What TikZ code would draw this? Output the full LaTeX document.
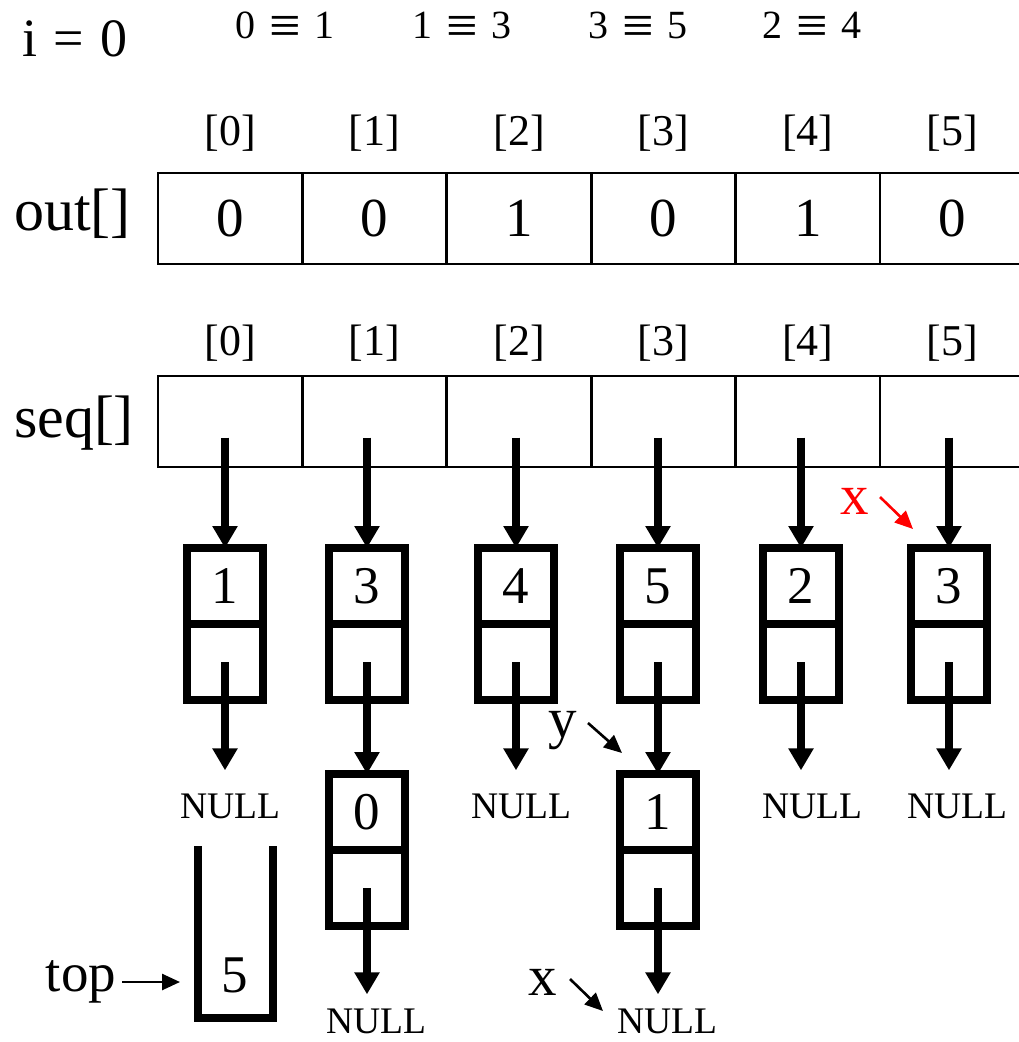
\documentclass[tikz,border=0pt]{standalone}
\usepackage{fontspec}
\setmainfont{Liberation Serif}
\usepackage{tikz}
\usetikzlibrary{positioning,arrows.meta,calc}

\tikzset{
  cell/.style={draw, line width=2.8pt, minimum width=144.4pt, minimum height=91pt,
    inner sep=0pt, outer sep=0pt, font=\fontsize{55}{60}\selectfont},
  idx/.style={inner sep=0pt, font=\fontsize{44}{50}\selectfont},
  arrname/.style={inner sep=0pt, font=\fontsize{60}{66}\selectfont},
  eqn/.style={inner sep=0pt, font=\fontsize{40}{46}\selectfont},
  listval/.style={draw, line width=8pt, minimum width=76pt, minimum height=76pt,
    inner sep=0pt, outer sep=0pt, font=\fontsize{53}{58}\selectfont},
  listptr/.style={listval},
  nulltxt/.style={inner sep=0pt, font=\fontsize{37.5}{42}\selectfont},
  lbl/.style={inner sep=0pt, font=\fontsize{57}{62}\selectfont},
  ptr/.style={line width=8pt, -{Triangle[width=24pt,length=22pt]}},
  thinptr/.style={line width=2.6pt, -{Triangle[width=16pt,length=18pt]}},
}

\begin{document}
\begin{tikzpicture}[x=1pt, y=-1pt]
    \useasboundingbox (0,0) rectangle (1019,1042);
    % ---- header ----
    \node[lbl, font=\fontsize{54}{60}\selectfont] (iv) at (75,39) {i\hspace{0.3em}=\hspace{0.3em}0};
    \foreach \x/\a/\b [count=\k] in {285/0/1, 462/1/3, 638/3/5, 812/2/4}
      \node[eqn] (eq\k) at (\x,28) {\a\hspace{0.35em}\raisebox{-0.15em}{\fontsize{56}{60}\selectfont ≡}\hspace{0.35em}\b};
    % ---- out[] ----
    \node[arrname] (outname) at (72.5,213.5) {out[]};
    \foreach \v [count=\k from 0] in {0,0,1,0,1,0} {
      \node[cell] (o\k) at ({230.2+144.4*\k},218.5) {\v};
      \node[idx] (oi\k) at ({230.2+144.4*\k},133) {[\k]};
    }
    % ---- seq[] ----
    \node[arrname] (seqname) at (74,423.5) {seq[]};
    \foreach \k in {0,...,5} {
      \node[cell] (s\k) at ({230.2+144.4*\k},421.5) {};
      \node[idx] (si\k) at ({230.2+144.4*\k},343) {[\k]};
    }
    % ---- first nodes ----
    \foreach \k/\x/\v in {0/225/1, 1/367/3, 2/516/4, 3/658/5, 4/801/2, 5/949/3} {
      \node[listval] (v\k) at (\x,586) {\v};
      \node[listptr, below=0pt of v\k] (p\k) {};
      \draw[ptr] ($(s\k.center -| v\k.north)+(0,16)$) -- (v\k.north);
    }
    \foreach \k/\x in {0/230, 2/521, 4/812, 5/957} {
      \node[nulltxt] (n\k) at (\x,806) {NULL};
      \draw[ptr, shorten >=23pt] (p\k.center) -- (p\k.center |- n\k.north);
    }
    % ---- second nodes ----
    \node[listval] (w1) at (367,812) {0};
    \node[listptr, below=0pt of w1] (q1) {};
    \node[listval] (w3) at (658,812) {1};
    \node[listptr, below=0pt of w3] (q3) {};
    \draw[ptr] (p1.center) -- (w1.north);
    \draw[ptr] (p3.center) -- (w3.north);
    \node[nulltxt] (m1) at (376,1021) {NULL};
    \node[nulltxt] (m3) at (667,1021) {NULL};
    \draw[ptr, shorten >=14pt] (q1.center) -- (q1.center |- m1.north);
    \draw[ptr, shorten >=14pt] (q3.center) -- (q3.center |- m3.north);
    % ---- stack ----
    \node[minimum width=75pt, minimum height=172pt, inner sep=0pt, outer sep=0pt] (stk) at (235.5,932) {};
    \draw[line width=8pt] (stk.north west) -- (stk.south west) -- (stk.south east) -- (stk.north east);
    \node[lbl, font=\fontsize{53}{58}\selectfont] (sv) at (235,975) {5};
    \node[lbl, font=\fontsize{55}{60}\selectfont] (toplbl) at (81,982) {top};
    \draw[thinptr, shorten <=6pt, shorten >=18pt] (toplbl.east) -- (toplbl.east -| stk.west);
    % ---- labels ----
    \node[lbl] (ylbl) at (563,731) {y};
    \coordinate (ya) at (588,723);
    \coordinate (yb) at (622,753);
    \draw[thinptr] (ya) -- (yb);
    \node[lbl] (xlbl) at (543,982) {x};
    \coordinate (xa) at (570,979);
    \coordinate (xb) at (603,1011);
    \draw[thinptr] (xa) -- (xb);
    \node[lbl, text=red] (xred) at (855,501) {x};
    \coordinate (ra) at (880,497);
    \coordinate (rb) at (913,529);
    \draw[thinptr, red] (ra) -- (rb);
\end{tikzpicture}
\end{document}
